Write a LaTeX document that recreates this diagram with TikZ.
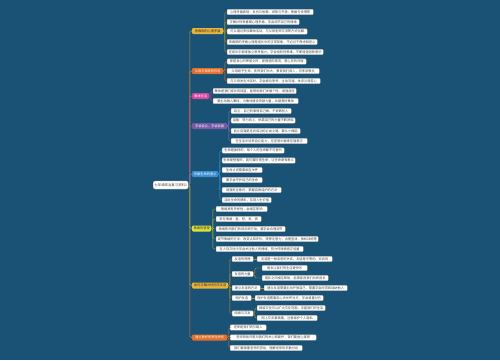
\documentclass[tikz,border=0pt]{standalone}
\usepackage{fontspec}
\setmainfont{Noto Sans CJK SC}
\definecolor{bg}{HTML}{1A5276}
\definecolor{cgold}{HTML}{E9B53A}
\definecolor{corange}{HTML}{E2702A}
\definecolor{cmag}{HTML}{D4479F}
\definecolor{cpurple}{HTML}{7A5AA8}
\definecolor{cblue}{HTML}{3A8FD2}
\definecolor{cygreen}{HTML}{D9E23C}
\definecolor{ltext}{HTML}{444444}
\tikzset{
  leaf/.style={draw=black!25, fill=white, rounded corners=0.8pt, line width=0.3pt,
    inner sep=0.8pt, minimum height=5.3pt, anchor=west,
    font=\fontsize{3.2}{3.6}\selectfont, text=ltext},
  br/.style={rounded corners=1pt, inner sep=1pt, minimum height=6pt, anchor=west,
    font=\fontsize{3.2}{3.6}\selectfont},
  conn/.style={line width=0.45pt, rounded corners=1.5pt},
  trunk/.style={line width=0.6pt, rounded corners=1.5pt},
}
\begin{document}
\begin{tikzpicture}[x=1pt,y=-1pt]
\fill[bg] (0,0) rectangle (500,360);
\useasboundingbox (0,0) rectangle (500,360);

% central
\node[draw=black!30, fill=white, rounded corners=2pt, inner sep=1.2pt, minimum height=8pt,
  minimum width=35pt, anchor=west, font=\fontsize{3.4}{4}\selectfont, text=ltext]
  (c) at (153,185) {七年级政治复习资料1};

% branches
\node[br, fill=cgold, text=black!80, minimum width=31pt] (b1) at (192,31) {青春期的心理矛盾};
\node[br, fill=corange, text=white, minimum width=31pt] (b2) at (192,71) {父母与家庭的作用};
\node[br, fill=cmag, text=white, minimum width=17pt] (b3) at (192,96) {集体生活};
\node[br, fill=cpurple, text=white, minimum width=35pt] (b4) at (192,126) {学会自立，学会自强};
\node[br, fill=cblue, text=white, minimum width=26pt] (b5) at (192,174) {珍爱生命的意义};
\node[br, fill=cygreen, text=black!80, minimum width=19pt] (b6) at (192,228.5) {情绪的管理};
\node[br, fill=cgold, text=black!80, minimum width=36pt] (b7) at (192,285.5) {如何正确对待同学友谊};
\node[br, fill=corange, text=white, minimum width=35pt] (b8) at (192,337.5) {建立良好的师生关系};

% trunk, farthest branches first
\draw[trunk, draw=cgold!80!black] (c.east) -- ++(1.5,0) |- (b1.west);
\draw[trunk, draw=corange] (c.east) -- ++(1.5,0) |- (b8.west);
\draw[trunk, draw=corange] (c.east) -- ++(1.5,0) |- (b2.west);
\draw[trunk, draw=cgold!80!black] (c.east) -- ++(1.5,0) |- (b7.west);
\draw[trunk, draw=cmag] (c.east) -- ++(1.5,0) |- (b3.west);
\draw[trunk, draw=cygreen!75!black] (c.east) -- ++(1.5,0) |- (b6.west);
\draw[trunk, draw=cpurple] (c.east) -- ++(1.5,0) |- (b4.west);
\draw[trunk, draw=cblue] (c.east) -- ++(1.5,0) |- (b5.west);

% branch 1
\node[leaf, minimum width=86pt] (l1a) at (227,12) {心理矛盾表现：反抗与依赖、闭锁与开放、勇敢与怯懦等};
\node[leaf, minimum width=72pt] (l1b) at (227,22) {正确对待青春期心理矛盾，学会调节自己的情绪};
\node[leaf, minimum width=80pt] (l1c) at (227,31.5) {可以通过参加集体活动、与父母老师交流等方式化解};
\node[leaf, minimum width=90pt] (l1d) at (227,42) {青春期的矛盾心理是成长中的正常现象，不必过于焦虑和担心};
\node[leaf, minimum width=96pt] (l1e) at (227,52) {在成长中锻炼独立思考能力，学会批判性思维，不断增强创新意识};
\foreach \l in {l1a,l1b,l1c,l1d,l1e}
  \draw[conn, draw=cgold!80!black] (b1.east) -- ++(1.5,0) |- (\l.west);

% branch 2
\node[leaf, minimum width=79pt] (l2a) at (227,61.5) {家是身心的寄居之所，是情感的港湾，是心灵的归宿};
\node[leaf, minimum width=92pt] (l2b) at (227,71) {父母给予生命，抚养我们长大，教育我们成人，应孝亲敬长};
\node[leaf, minimum width=93pt] (l2c) at (227,81) {与父母发生冲突时，学会换位思考，主动沟通，体谅父母苦心};
\foreach \l in {l2a,l2b,l2c}
  \draw[conn, draw=corange] (b2.east) -- ++(1.5,0) |- (\l.west);

% branch 3
\node[leaf, minimum width=83pt] (l3a) at (213,91) {集体是我们成长的摇篮，能帮助我们发展个性、增强自信};
\node[leaf, minimum width=85pt] (l3b) at (213,101) {要主动融入集体，为集体建设贡献力量，共建美好集体};
\foreach \l in {l3a,l3b}
  \draw[conn, draw=cmag] (b3.east) -- ++(1.5,0) |- (\l.west);

% branch 4
\node[leaf, minimum width=60pt] (l4a) at (231,111) {自立：自己的事情自己做，不依赖别人};
\node[leaf, minimum width=64pt] (l4b) at (231,120.5) {自强：努力向上，依靠自己的力量不断进取};
\node[leaf, minimum width=69pt] (l4c) at (231,131) {自立自强是走向成功的必由之路，要从小做起};
\node[leaf, minimum width=76pt] (l4d) at (231,141) {在生活中培养自立能力，在逆境中磨炼坚强意志};
\foreach \l in {l4a,l4b,l4c,l4d}
  \draw[conn, draw=cpurple!85!white] (b4.east) -- ++(1.5,0) |- (\l.west);

% branch 5
\node[leaf, minimum width=62pt] (l5a) at (222,150.5) {生命是独特的，每个人的生命都不可替代};
\node[leaf, minimum width=73pt] (l5b) at (222,160.5) {生命是短暂的，我们要珍惜生命，让生命更有意义};
\node[leaf, minimum width=40pt] (l5c) at (222,170) {生命之间需要相互关怀};
\node[leaf, minimum width=40pt] (l5d) at (222,180) {要学会守护自己的生命};
\node[leaf, minimum width=59pt] (l5e) at (222,190) {增强安全意识，掌握自救自护的方法};
\node[leaf, minimum width=49pt] (l5f) at (222,200) {活出生命的精彩，实现人生价值};
\foreach \l in {l5a,l5b,l5c,l5d,l5e,l5f}
  \draw[conn, draw=cblue] (b5.east) -- ++(1.5,0) |- (\l.west);

% branch 6
\node[leaf, minimum width=51pt] (l6a) at (216,209) {情绪具有多样性，会相互影响};
\node[leaf, minimum width=45pt] (l6b) at (216,219) {常见情绪：喜、怒、哀、惧};
\node[leaf, minimum width=69pt] (l6c) at (216,229) {情绪影响我们的观念和行动，要学会合理调节};
\node[leaf, minimum width=102pt] (l6d) at (216,239) {调节情绪的方法：改变认知评价、转移注意力、合理宣泄、放松训练等};
\node[leaf, minimum width=87pt] (l6e) at (216,249) {在人际交往中学会关注他人的情绪，努力传递情感正能量};
\foreach \l in {l6a,l6b,l6c,l6d,l6e}
  \draw[conn, draw=cygreen!80!black] (b6.east) -- ++(1.5,0) |- (\l.west);

% branch 7
\node[leaf, minimum width=21pt] (s1) at (232,259) {友谊的特质};
\node[leaf, minimum width=21pt] (s2) at (232,274) {友谊的力量};
\node[leaf, minimum width=28pt] (s3) at (232,288) {建立友谊的方法};
\node[leaf, minimum width=19pt] (s4) at (232,298) {呵护友谊};
\node[leaf, minimum width=21pt] (s5) at (232,313.5) {网络与交友};
\foreach \l in {s1,s2,s3,s4,s5}
  \draw[conn, draw=cgold!80!black] (b7.east) -- ++(1.5,0) |- (\l.west);
\node[leaf, minimum width=75pt] (s1a) at (257,259) {友谊是一种亲密的关系，友谊是平等的、双向的};
\node[leaf, minimum width=45pt] (s2a) at (262,268) {朋友让我们的生活更快乐};
\node[leaf, minimum width=66pt] (s2b) at (262,278) {朋友之间相互帮助，能够促进我们共同成长};
\node[leaf, minimum width=83pt] (s3a) at (264,288) {建立友谊需要主动开放自己，需要学会欣赏和接纳他人};
\node[leaf, minimum width=68pt] (s4a) at (255,298) {呵护友谊需要用心去关怀对方，学会尊重对方};
\node[leaf, minimum width=68pt] (s5a) at (257,308) {网络交往可以扩大交友范围，丰富我们的生活};
\node[leaf, minimum width=60pt] (s5b) at (257,318) {网上交友要慎重，注意保护个人隐私};
\draw[conn, draw=cgold!80!black] (s1.east) -- (s1a.west);
\draw[conn, draw=cgold!80!black] (s2.east) -- ++(1.5,0) |- (s2a.west);
\draw[conn, draw=cgold!80!black] (s2.east) -- ++(1.5,0) |- (s2b.west);
\draw[conn, draw=cgold!80!black] (s3.east) -- (s3a.west);
\draw[conn, draw=cgold!80!black] (s4.east) -- (s4a.west);
\draw[conn, draw=cgold!80!black] (s5.east) -- ++(1.5,0) |- (s5a.west);
\draw[conn, draw=cgold!80!black] (s5.east) -- ++(1.5,0) |- (s5b.west);

% branch 8
\node[leaf, minimum width=36pt] (l8a) at (230,327.5) {老师是我们的引路人};
\node[leaf, minimum width=86pt] (l8b) at (230,337.5) {老师的批评是对我们的关心和爱护，我们要虚心接受};
\node[leaf, minimum width=72pt] (l8c) at (230,348) {我们要尊重老师的劳动，理解老师的辛勤付出};
\foreach \l in {l8a,l8b,l8c}
  \draw[conn, draw=corange] (b8.east) -- ++(1.5,0) |- (\l.west);
\end{tikzpicture}
\end{document}
